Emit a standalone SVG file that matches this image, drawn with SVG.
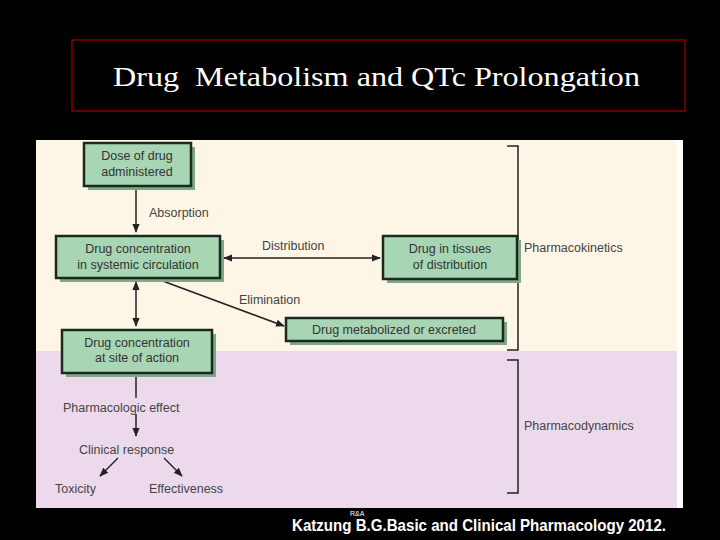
<svg xmlns="http://www.w3.org/2000/svg" width="720" height="540" viewBox="0 0 720 540">
<style>
.b{fill:#a8d5b4;stroke:#1a2a1f;stroke-width:2.5}
.s{fill:#7fa88a}
.t{font-family:"Liberation Sans",Arial,sans-serif;font-size:12.5px;fill:#333;text-anchor:middle}
.l{font-family:"Liberation Sans",Arial,sans-serif;font-size:12.5px;fill:#444}
.c{stroke:#222;stroke-width:1.5;fill:none}
</style>
<defs><marker id="a" viewBox="0 0 10 10" refX="9" refY="5" markerWidth="6" markerHeight="6" orient="auto-start-reverse"><path d="M0,1L10,5L0,9z" fill="#222"/></marker></defs>
<rect width="720" height="540" fill="#000"/>
<rect x="72" y="40" width="613" height="71" fill="none" stroke="#c00000" stroke-width="1"/>
<text x="113" y="86" font-family="Liberation Serif,serif" font-size="27" fill="#fff" xml:space="preserve" textLength="527" lengthAdjust="spacingAndGlyphs">Drug  Metabolism and QTc Prolongation</text>
<rect x="36" y="140" width="647" height="368" fill="#fff"/>
<rect x="36" y="140" width="641" height="211" fill="#fdf5e6"/>
<rect x="36" y="351" width="641" height="157" fill="#ecdaec"/>
<g id="connectors">
<path class="c" d="M136,186V232" marker-end="url(#a)"/>
<path class="c" d="M224,258H380" marker-start="url(#a)" marker-end="url(#a)"/>
<path class="c" d="M160,280L284,326" marker-end="url(#a)"/>
<path class="c" d="M136,282V326" marker-start="url(#a)" marker-end="url(#a)"/>
<path class="c" d="M136,374V398"/>
<path class="c" d="M136,414V436" marker-end="url(#a)"/>
<path class="c" d="M118,458L100,476" marker-end="url(#a)"/>
<path class="c" d="M164,458L182,476" marker-end="url(#a)"/>
<path class="c" d="M507,146H518V350H507"/>
<path class="c" d="M507,360H518V493H507"/>
</g>
<g id="n1"><rect class="s" x="88" y="147" width="107" height="43"/><rect class="b" x="84" y="143" width="107" height="43"/><text class="t" x="137" y="160">Dose of drug</text><text class="t" x="137" y="176">administered</text></g>
<g id="n2"><rect class="s" x="60" y="240" width="164" height="42"/><rect class="b" x="56" y="236" width="164" height="42"/><text class="t" x="138" y="253">Drug concentration</text><text class="t" x="138" y="269">in systemic circulation</text></g>
<g id="n3"><rect class="s" x="387" y="240" width="134" height="43"/><rect class="b" x="383" y="236" width="134" height="43"/><text class="t" x="450" y="253">Drug in tissues</text><text class="t" x="450" y="269">of distribution</text></g>
<g id="n4"><rect class="s" x="290" y="322" width="217" height="23"/><rect class="b" x="286" y="318" width="217" height="23"/><text class="t" x="394" y="334">Drug metabolized or excreted</text></g>
<g id="n5"><rect class="s" x="66" y="334" width="150" height="43"/><rect class="b" x="62" y="330" width="150" height="43"/><text class="t" x="137" y="347">Drug concentration</text><text class="t" x="137" y="362">at site of action</text></g>
<text class="l" x="149" y="217">Absorption</text>
<text class="l" x="262" y="250">Distribution</text>
<text class="l" x="239" y="304">Elimination</text>
<text class="l" x="524" y="252">Pharmacokinetics</text>
<text class="l" x="524" y="430">Pharmacodynamics</text>
<text class="l" x="63" y="412">Pharmacologic effect</text>
<text class="l" x="79" y="454">Clinical response</text>
<text class="l" x="55" y="493">Toxicity</text>
<text class="l" x="149" y="493">Effectiveness</text>
<text x="292" y="531" font-family="Liberation Sans Narrow,Liberation Sans,sans-serif" font-size="17" font-weight="bold" fill="#fff" textLength="374" lengthAdjust="spacingAndGlyphs">Katzung B.G.Basic and Clinical Pharmacology 2012.</text>
<text x="350" y="516" font-family="Liberation Sans,sans-serif" font-size="7" fill="#fff">R&amp;A</text>
</svg>
